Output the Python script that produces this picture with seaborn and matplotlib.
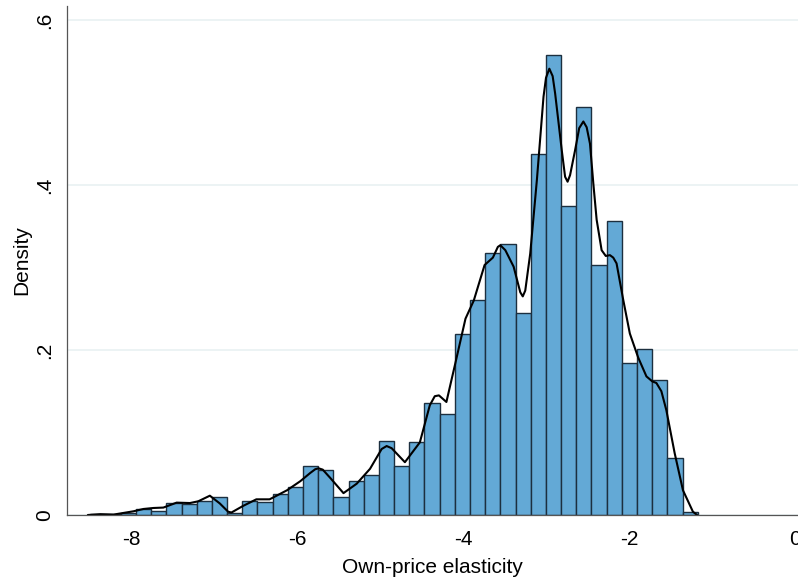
import numpy as np
import pandas as pd
import seaborn as sns
import matplotlib.pyplot as plt

# histogram, 40 bins, density
bin_start = -8.488
bin_width = 0.1829
bar_density = [0.0008, 0.001, 0.003, 0.0069, 0.0044, 0.0141, 0.0133, 0.0166,
               0.0214, 0.002, 0.0166, 0.0158, 0.0255, 0.0335, 0.059, 0.0545,
               0.0214, 0.0416, 0.048, 0.090, 0.060, 0.089, 0.136, 0.123,
               0.220, 0.261, 0.317, 0.329, 0.245, 0.438, 0.557, 0.375,
               0.495, 0.303, 0.356, 0.184, 0.201, 0.164, 0.069, 0.004]

# kernel density line
kde_x = [-8.52, -8.37, -8.21, -8.09, -7.97, -7.85, -7.73, -7.61, -7.45, -7.29,
         -7.19, -7.05, -6.93, -6.83, -6.79, -6.65, -6.49, -6.33, -6.12, -5.96,
         -5.84, -5.78, -5.74, -5.69, -5.60, -5.44, -5.28, -5.12, -4.98, -4.92,
         -4.86, -4.70, -4.52, -4.40, -4.34, -4.29, -4.20, -4.09, -3.97, -3.87,
         -3.74, -3.64, -3.58, -3.55, -3.49, -3.39, -3.31, -3.28, -3.25, -3.19,
         -3.11, -3.03, -3.00, -2.96, -2.92, -2.89, -2.81, -2.77, -2.74, -2.71,
         -2.65, -2.60, -2.55, -2.51, -2.47, -2.43, -2.39, -2.33, -2.28, -2.23,
         -2.19, -2.15, -2.07, -1.99, -1.89, -1.79, -1.72, -1.67, -1.61, -1.55,
         -1.45, -1.35, -1.23, -1.18]
kde_y = [0.000, 0.001, 0.0005, 0.0025, 0.0045, 0.0073, 0.0085, 0.0090, 0.0150, 0.0145,
         0.0166, 0.0234, 0.0140, 0.0040, 0.0030, 0.0110, 0.0190, 0.0190, 0.0300, 0.0410,
         0.0510, 0.0555, 0.0566, 0.0550, 0.0450, 0.0265, 0.0380, 0.0560, 0.0800, 0.0836,
         0.0810, 0.0640, 0.0880, 0.1330, 0.1440, 0.1450, 0.1370, 0.1850, 0.2380, 0.2600,
         0.3030, 0.3120, 0.3250, 0.3270, 0.3210, 0.3010, 0.2700, 0.2650, 0.2720, 0.3170,
         0.4060, 0.5070, 0.5300, 0.5410, 0.5320, 0.5110, 0.4420, 0.4100, 0.4040, 0.4120,
         0.4420, 0.4690, 0.4770, 0.4700, 0.4500, 0.4020, 0.3580, 0.3210, 0.3140, 0.3150,
         0.3120, 0.3050, 0.2610, 0.2200, 0.1910, 0.1680, 0.1620, 0.1600, 0.1500, 0.1270,
         0.0750, 0.0300, 0.0040, 0.0000]

x_ticks = [-8, -6, -4, -2, 0]
y_ticks = [0, 0.2, 0.4, 0.6]
y_tick_labels = ["0", ".2", ".4", ".6"]

sns.set_theme(style="white")
plt.rcParams['font.family'] = ['Liberation Sans', 'DejaVu Sans']
plt.rcParams['axes.unicode_minus'] = False

edges = (bin_start + bin_width * np.arange(len(bar_density) + 1)).tolist()
centers = [e + bin_width / 2 for e in edges[:-1]]
hist_df = pd.DataFrame({'x': centers, 'w': bar_density})

fig = plt.figure(figsize=(7.98, 5.79), dpi=100)
ax = fig.add_axes([67 / 798, 64 / 579, 731 / 798, 509 / 579])

sns.histplot(data=hist_df, x='x', weights='w', bins=edges, color='#63a9d6',
             edgecolor='#1c2f3f', linewidth=1.0, alpha=1, ax=ax)
sns.lineplot(x=kde_x, y=kde_y, color='black', linewidth=1.5,
             estimator=None, sort=False, ax=ax)

ax.set_xlim(-8.771, 0.036)
ax.set_ylim(0, 0.617)
ax.set_xticks(x_ticks)
ax.set_xticklabels([str(t) for t in x_ticks])
ax.set_yticks(y_ticks)
ax.set_yticklabels(y_tick_labels, rotation=90, va='center')

ax.set_axisbelow(True)
ax.yaxis.grid(True, color='#eaf2f3', linewidth=1.3)
ax.xaxis.grid(False)
for side in ['top', 'right']:
    ax.spines[side].set_visible(False)
for side in ['left', 'bottom']:
    ax.spines[side].set_color('#555555')
    ax.spines[side].set_linewidth(0.9)
ax.tick_params(axis='both', direction='out', length=6, width=0.9,
               color='#555555', labelsize=15, labelcolor='black', pad=5)
ax.tick_params(axis='y', pad=3)

ax.set_xlabel('Own-price elasticity', fontsize=15, labelpad=6, color='black')
ax.set_ylabel('Density', fontsize=15, labelpad=3, color='black')

fig.savefig('out.png', dpi=100)
